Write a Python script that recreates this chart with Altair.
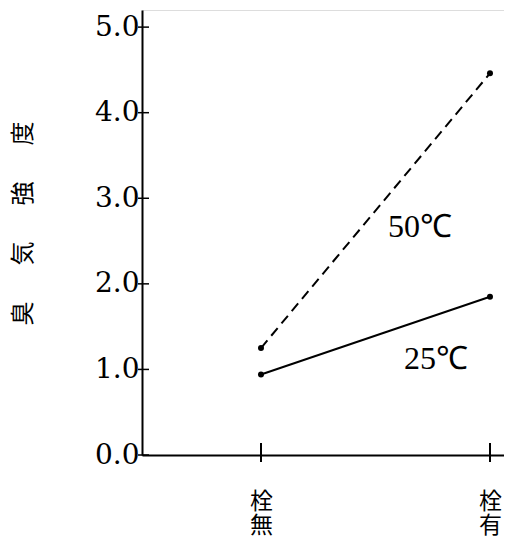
import json
import altair as alt
import pandas as pd

# ---- data ----
categories = ["栓無", "栓有"]
temp_50 = [1.25, 4.46]
temp_25 = [0.94, 1.85]
series_names = ["50℃", "25℃"]
y_ticks = [0.0, 1.0, 2.0, 3.0, 4.0, 5.0]
y_title = "臭\u3000\u2002気\u3000\u2002強\u3000\u2002度"

rows = []
for i, c in enumerate(categories):
    rows.append({"idx": i, "cat": c, "series": series_names[0], "v": temp_50[i]})
    rows.append({"idx": i, "cat": c, "series": series_names[1], "v": temp_25[i]})
df = pd.DataFrame(rows)
ticks_df = pd.DataFrame({"t": y_ticks})
cat_df = pd.DataFrame({"idx": list(range(len(categories))), "cat": categories})

W, H = 362, 445
xscale = alt.Scale(domain=[-0.5196, 1.0612], nice=False, zero=False)
yscale = alt.Scale(domain=[0, 5.2], nice=False, zero=True)

label_expr = " : ".join(
    [f"datum.value == {i} ? {json.dumps(list(c), ensure_ascii=False)}" for i, c in enumerate(categories)]
) + " : ''"

x_enc = alt.X("idx:Q", scale=xscale, axis=alt.Axis(
    values=list(range(len(categories))), labelExpr=label_expr, title=None,
    grid=False, ticks=False, domainColor="black", domainWidth=2,
    labelFont="Noto Sans CJK JP", labelFontSize=23, labelLineHeight=24,
    labelColor="black", labelPadding=35, labelBaseline="top", labelAngle=0,
))
y_enc = alt.Y("v:Q", scale=yscale, axis=alt.Axis(
    values=y_ticks, format=".1f", title=y_title, grid=False, ticks=False,
    domainColor="black", domainWidth=2,
    labelFont="DejaVu Serif", labelFontSize=28, labelColor="black", labelPadding=3,
    titleFont="Noto Sans CJK JP", titleFontSize=24, titleFontWeight="normal",
    titleColor="black", titleX=-119, titleY=213, titleAngle=-90,
    titleAlign="center", titleBaseline="middle",
))

base = alt.Chart(df)

line50 = base.transform_filter(alt.datum.series == series_names[0]).mark_line(
    color="black", strokeWidth=2, strokeDash=[10, 6]
).encode(x=x_enc, y=y_enc)
line25 = base.transform_filter(alt.datum.series == series_names[1]).mark_line(
    color="black", strokeWidth=2
).encode(x="idx:Q", y="v:Q")
pts = base.mark_circle(color="black", size=36, opacity=1).encode(x="idx:Q", y="v:Q")

last = df[df["idx"] == len(categories) - 1]
lab50 = alt.Chart(last[last["series"] == series_names[0]]).mark_text(
    font="Liberation Serif", fontSize=32, align="left", baseline="middle",
    dx=-102, dy=154, color="black"
).encode(x="idx:Q", y="v:Q", text="series:N")
lab25 = alt.Chart(last[last["series"] == series_names[1]]).mark_text(
    font="Liberation Serif", fontSize=32, align="left", baseline="middle",
    dx=-86, dy=62, color="black"
).encode(x="idx:Q", y="v:Q", text="series:N")

ytick_rules = alt.Chart(ticks_df).mark_rule(color="black", strokeWidth=1.5).encode(
    y=alt.Y("t:Q", scale=yscale), x=alt.value(-4), x2=alt.value(7)
)
xtick_rules = alt.Chart(cat_df).mark_rule(color="black", strokeWidth=2).encode(
    x=alt.X("idx:Q", scale=xscale), y=alt.value(H - 12), y2=alt.value(H + 7)
)

chart = alt.layer(line50, line25, pts, lab50, lab25, ytick_rules, xtick_rules).properties(
    width=W, height=H,
    autosize=alt.AutoSizeParams(type="none"),
    padding={"left": 134, "top": 2, "right": 0, "bottom": 82},
).configure_view(stroke=None).configure(background="white")

chart.save("out.html", embed_options={"renderer": "svg", "actions": False})
